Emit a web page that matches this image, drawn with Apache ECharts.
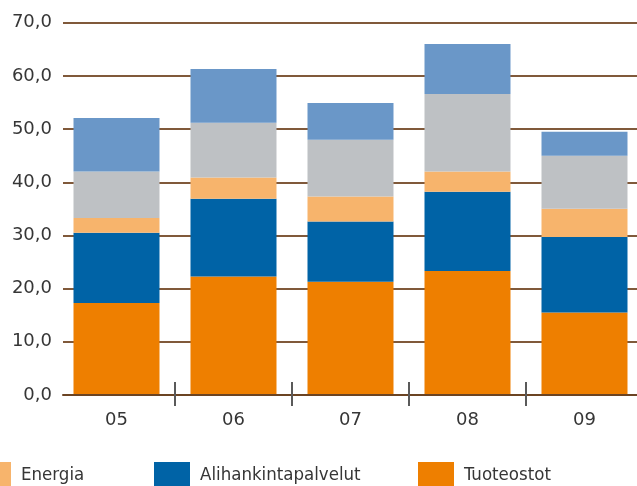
<!DOCTYPE html>
<html>
<head>
<meta charset="utf-8">
<script src="https://cdn.jsdelivr.net/npm/echarts@6/dist/echarts.min.js"></script>
<style>
  html, body { margin: 0; padding: 0; background: #ffffff; }
  #chart { width: 637px; height: 486px; }
</style>
</head>
<body>
<div id="chart"></div>
<script>
// Purchases by year (stacked from bottom to top)
const categories = ['05', '06', '07', '08', '09'];
const tuoteostot = [17.3, 22.3, 21.3, 23.3, 15.5];
const alihankintapalvelut = [13.2, 14.6, 11.3, 14.9, 14.2];
const energia = [2.8, 4.0, 4.7, 3.8, 5.3];
const materiaalit = [8.7, 10.3, 10.7, 14.6, 10.0];
const muut = [10.1, 10.1, 6.9, 9.4, 4.5];

const yTicks = [0, 10, 20, 30, 40, 50, 60, 70];
const yTickLabels = ['0,0', '10,0', '20,0', '30,0', '40,0', '50,0', '60,0', '70,0'];

const FONT = 'DejaVu Sans';
const LEGEND_FONT = 'DejaVu Sans Condensed';
const TEXT = '#363636';

const chart = echarts.init(document.getElementById('chart'), null, { renderer: 'canvas' });

const seriesDefs = [
  { name: 'Tuoteostot', data: tuoteostot, color: '#ee7f00' },
  { name: 'Alihankintapalvelut', data: alihankintapalvelut, color: '#0063a6' },
  { name: 'Energia', data: energia, color: '#f7b46c' },
  { name: 'Materiaalit', data: materiaalit, color: '#bec1c4' },
  { name: 'Muut', data: muut, color: '#6a97c8' }
];

function legendAt(name, left) {
  return {
    data: [name],
    left: left,
    top: 462,
    padding: 0,
    icon: 'rect',
    itemWidth: 36,
    itemHeight: 26,
    selectedMode: false,
    textStyle: {
      fontFamily: LEGEND_FONT,
      fontSize: 18.5,
      color: TEXT,
      padding: [0, 0, 0, 5]
    }
  };
}

const option = {
  animation: false,
  backgroundColor: '#ffffff',
  legend: [
    legendAt('Energia', -25),
    legendAt('Alihankintapalvelut', 154),
    legendAt('Tuoteostot', 418)
  ],
  grid: [
    // bars (the last category runs past the right edge)
    { left: 58, width: 585, top: 22.7, bottom: 91, outerBoundsMode: 'none' },
    // gridlines and value labels
    { left: 63, right: 0, top: 22.7, bottom: 91, outerBoundsMode: 'none' }
  ],
  xAxis: [
    {
      type: 'category',
      gridIndex: 0,
      data: categories,
      axisLine: { show: false },
      axisTick: {
        show: true,
        length: 11,
        interval: function (i) { return i > 0; },
        lineStyle: { color: '#5a5a5a', width: 2 }
      },
      axisLabel: { fontFamily: FONT, fontSize: 18, color: TEXT, margin: 16 },
      z: 11
    },
    {
      type: 'category',
      gridIndex: 0,
      data: categories,
      position: 'bottom',
      axisLine: { show: false },
      axisTick: {
        show: true,
        inside: true,
        length: 13,
        interval: function (i) { return i > 0; },
        lineStyle: { color: '#5a5a5a', width: 2 }
      },
      axisLabel: { show: false },
      z: 11
    },
    {
      type: 'value',
      gridIndex: 1,
      min: 0,
      max: 1,
      axisLine: { show: true, lineStyle: { color: '#6b4423', width: 2 } },
      axisTick: { show: false },
      axisLabel: { show: false },
      splitLine: { show: false },
      z: 10
    }
  ],
  yAxis: [
    {
      type: 'value',
      gridIndex: 0,
      min: 0,
      max: 70,
      interval: 10,
      axisLine: { show: false },
      axisTick: { show: false },
      axisLabel: { show: false },
      splitLine: { show: false }
    },
    {
      type: 'value',
      gridIndex: 1,
      min: yTicks[0],
      max: yTicks[yTicks.length - 1],
      interval: 10,
      axisLine: { show: false },
      axisTick: { show: false },
      axisLabel: {
        fontFamily: FONT,
        fontSize: 18,
        color: TEXT,
        margin: 11,
        formatter: function (v) { return yTickLabels[yTicks.indexOf(v)]; }
      },
      splitLine: { show: true, lineStyle: { color: '#80593a', width: 1.8 } }
    }
  ],
  series: seriesDefs.map(function (s) {
    return {
      name: s.name,
      type: 'bar',
      stack: 'total',
      xAxisIndex: 0,
      yAxisIndex: 0,
      barWidth: '73.5%',
      data: s.data,
      itemStyle: { color: s.color },
      emphasis: { disabled: true }
    };
  })
};

chart.setOption(option);
</script>
</body>
</html>
